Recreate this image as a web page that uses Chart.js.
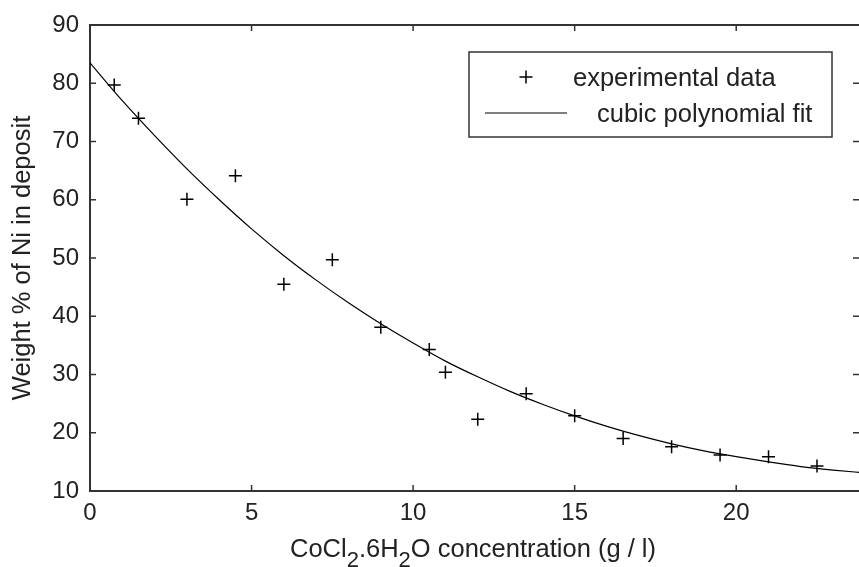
<!DOCTYPE html>
<html>
<head>
<meta charset="utf-8">
<script src="https://cdn.jsdelivr.net/npm/chart.js@4.4.0/dist/chart.umd.min.js"></script>
<style>
  html, body { margin: 0; padding: 0; background: #fff; overflow: hidden; }
  #wrap { width: 859px; height: 567px; overflow: hidden; position: relative; }
  #fitChart { position: absolute; left: 0; top: 0; display: block; }
</style>
</head>
<body>
<div id="wrap"><canvas id="fitChart" width="867" height="567"></canvas></div>
<script>
var concX = [0.75, 1.5, 3, 4.5, 6, 7.5, 9, 10.5, 11, 12, 13.5, 15, 16.5, 18, 19.5, 21, 22.5];
var niWeight = [79.7, 74.0, 60.1, 64.1, 45.5, 49.7, 38.1, 34.3, 30.4, 22.3, 26.7, 22.9, 19.0, 17.6, 16.2, 15.9, 14.3];

// cubic fit curve, sampled off the figure
var fitX = [0, 1, 2, 3, 4, 5, 6, 7, 8, 9, 10, 11, 12, 13, 14, 15, 16, 17, 18, 19, 20, 21, 22, 23, 24];
var fitY = [83.5, 77.0, 71.0, 65.3, 60.0, 55.0, 50.4, 46.2, 42.3, 38.7, 35.4, 32.3, 29.6, 27.1, 24.9, 22.9, 21.1, 19.5, 18.1, 16.9, 15.9, 15.0, 14.2, 13.6, 13.1];

var xTicks = [0, 5, 10, 15, 20];
var yTicks = [10, 20, 30, 40, 50, 60, 70, 80, 90];

var seriesNames = ['experimental data', 'cubic polynomial fit'];
var xTitleParts = [['CoCl', 0], ['2', 1], ['.6H', 0], ['2', 1], ['O concentration (g / l)', 0]];

var fontFam = "'Liberation Sans', Arial, sans-serif";
var inkColor = '#222';
var axisColor = '#333';

// inward ticks on all four sides + top frame (right frame is cut off in the original)
var frameTicks = {
  id: 'frameTicks',
  afterDraw: function (chart) {
    var ctx = chart.ctx, a = chart.chartArea;
    var xs = chart.scales.x, ys = chart.scales.y;
    ctx.save();
    ctx.strokeStyle = axisColor;
    ctx.lineWidth = 2;
    ctx.beginPath();
    ctx.moveTo(a.left, a.top); ctx.lineTo(a.right, a.top);
    ctx.stroke();
    ctx.lineWidth = 1.5;
    ctx.beginPath();
    xTicks.forEach(function (v) {
      var px = xs.getPixelForValue(v);
      ctx.moveTo(px, a.bottom); ctx.lineTo(px, a.bottom - 6);
      ctx.moveTo(px, a.top); ctx.lineTo(px, a.top + 6);
    });
    yTicks.forEach(function (v) {
      var py = ys.getPixelForValue(v);
      ctx.moveTo(a.left, py); ctx.lineTo(a.left + 6, py);
      ctx.moveTo(a.right, py); ctx.lineTo(a.right - 6, py);
    });
    ctx.stroke();
    ctx.restore();
  }
};

// x title with subscripts
var xTitle = {
  id: 'xTitle',
  afterDraw: function (chart) {
    var ctx = chart.ctx;
    ctx.save();
    ctx.fillStyle = inkColor;
    ctx.textBaseline = 'alphabetic';
    var bigFont = '25.5px ' + fontFam, subFont = '22px ' + fontFam;
    var x = 290;
    xTitleParts.forEach(function (p) {
      ctx.font = p[1] ? subFont : bigFont;
      ctx.fillText(p[0], x, p[1] ? 567 : 557);
      x += ctx.measureText(p[0]).width;
    });
    ctx.restore();
  }
};

// boxed legend in the upper right
var boxLegend = {
  id: 'boxLegend',
  afterDraw: function (chart) {
    var ctx = chart.ctx;
    ctx.save();
    ctx.fillStyle = '#fff';
    ctx.fillRect(469, 52, 363, 85);
    ctx.strokeStyle = axisColor;
    ctx.lineWidth = 1.5;
    ctx.strokeRect(469, 52, 363, 85);
    ctx.strokeStyle = '#000';
    ctx.lineWidth = 1.5;
    ctx.beginPath();
    ctx.moveTo(519.5, 77); ctx.lineTo(532.5, 77);
    ctx.moveTo(526, 70.5); ctx.lineTo(526, 83.5);
    ctx.stroke();
    ctx.lineWidth = 1.2;
    ctx.beginPath();
    ctx.moveTo(485, 113); ctx.lineTo(567, 113);
    ctx.stroke();
    ctx.fillStyle = inkColor;
    ctx.font = '25.5px ' + fontFam;
    ctx.textBaseline = 'alphabetic';
    ctx.fillText(chart.data.datasets[0].label, 573, 86);
    ctx.fillText(chart.data.datasets[1].label, 597, 122);
    ctx.restore();
  }
};

var ctx = document.getElementById('fitChart').getContext('2d');
new Chart(ctx, {
  type: 'scatter',
  data: {
    datasets: [
      {
        label: seriesNames[0],
        data: concX.map(function (v, i) { return { x: v, y: niWeight[i] }; }),
        pointStyle: 'cross',
        pointRadius: 6.5,
        pointBorderWidth: 1.5,
        borderColor: '#000',
        backgroundColor: '#000',
        showLine: false
      },
      {
        label: seriesNames[1],
        data: fitX.map(function (v, i) { return { x: v, y: fitY[i] }; }),
        showLine: true,
        pointRadius: 0,
        borderColor: '#000',
        borderWidth: 1.2,
        cubicInterpolationMode: 'monotone'
      }
    ]
  },
  options: {
    responsive: false,
    animation: false,
    layout: { padding: { top: 25, right: 0, left: 0, bottom: 0 } },
    plugins: { legend: { display: false }, tooltip: { enabled: false } },
    scales: {
      x: {
        type: 'linear',
        min: 0,
        max: 23.8,
        afterBuildTicks: function (s) { s.ticks = xTicks.map(function (v) { return { value: v }; }); },
        afterFit: function (s) { s.height = 76; s.paddingLeft = 0; s.paddingRight = 0; },
        grid: { display: false, drawTicks: false },
        border: { display: true, color: axisColor, width: 2 },
        ticks: { color: inkColor, padding: 8, maxRotation: 0, font: { family: fontFam, size: 24 } }
      },
      y: {
        type: 'linear',
        min: 10,
        max: 90,
        afterBuildTicks: function (s) { s.ticks = yTicks.map(function (v) { return { value: v }; }); },
        afterFit: function (s) { s.width = 90; s.paddingTop = 0; s.paddingBottom = 0; },
        grid: { display: false, drawTicks: false },
        border: { display: true, color: axisColor, width: 2 },
        ticks: { color: inkColor, padding: 11, font: { family: fontFam, size: 24 } },
        title: {
          display: true,
          text: 'Weight % of Ni in deposit',
          color: inkColor,
          padding: { top: 8, bottom: 0 },
          font: { family: fontFam, size: 25.5 }
        }
      }
    }
  },
  plugins: [frameTicks, xTitle, boxLegend]
});
</script>
</body>
</html>
